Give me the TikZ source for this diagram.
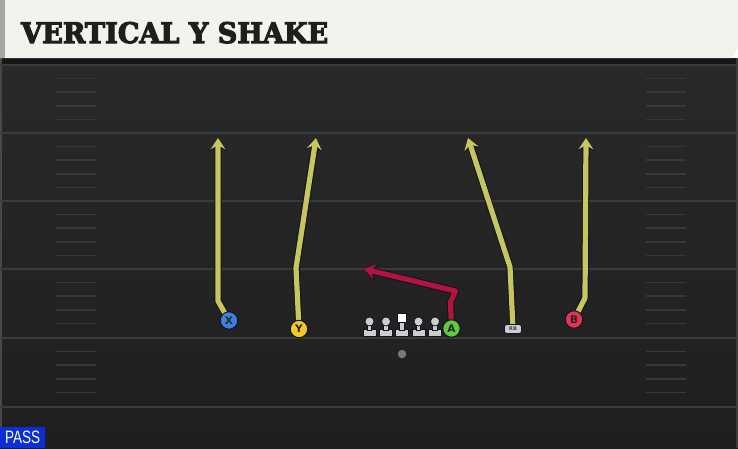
\documentclass[tikz,border=0pt]{standalone}
\usepackage{fontspec}
\usetikzlibrary{arrows.meta}
\newfontfamily\titlefont[BoldFeatures={FakeBold=4}]{DejaVu Serif}
\newfontfamily\labelfont{DejaVu Sans}
\newfontfamily\passfont{Liberation Sans}
\definecolor{fieldtop}{HTML}{292929}
\definecolor{fieldbot}{HTML}{1F1F1F}
\definecolor{yardline}{HTML}{3B3B3B}
\definecolor{hashc}{HTML}{383838}
\definecolor{cream}{HTML}{F4F2EC}
\definecolor{outl}{HTML}{101226}
\definecolor{ylw}{HTML}{C8C55C}
\definecolor{crim}{HTML}{B3133C}
\definecolor{xblue}{HTML}{3D7FDA}
\definecolor{yyel}{HTML}{F3C822}
\definecolor{agreen}{HTML}{5DCB3C}
\definecolor{bred}{HTML}{E2344D}
\definecolor{olgrey}{HTML}{CDCDCD}
\definecolor{passblue}{HTML}{0B2ED6}
\definecolor{band}{HTML}{161616}
\definecolor{leftstrip}{HTML}{A6A6A6}
\definecolor{borderl}{HTML}{484848}
\definecolor{borderr}{HTML}{3C3C3C}
\definecolor{titlec}{HTML}{1E1E1E}
\definecolor{qbgrey}{HTML}{787878}
\pgfdeclarelayer{bg}
\pgfdeclarelayer{routes}
\pgfsetlayers{bg,routes,main}
\tikzset{
  player/.style={circle, draw=outl, line width=1pt, minimum size=17.5pt, inner sep=0pt,
    font=\labelfont\bfseries\fontsize{10.5}{10.5}\selectfont, text=black!85},
  routeshadow/.style={line width=7.2pt, draw=outl, line join=round,
    -{Stealth[length=13.5pt,width=18pt,inset=5pt]}},
  routeyel/.style={line width=5.2pt, draw=ylw, line join=round,
    -{Stealth[length=11.5pt,width=15pt,inset=4.5pt]}},
  routered/.style={line width=5.2pt, draw=crim, line join=round,
    -{Stealth[length=11.5pt,width=15pt,inset=4.5pt]}},
  yardl/.style={draw=yardline, line width=2pt},
  hashm/.style={draw=hashc, line width=1.6pt},
  olpart/.style={fill=olgrey, draw=outl, line width=0.7pt},
  lineman/.pic={
    \path[olpart] (-6.5,329) rectangle (6.5,336);
    \path[olpart] (-2.2,322) rectangle (2.2,330);
    \path[olpart] (0,321.5) circle (4.5);
  },
  centerman/.pic={
    \path[olpart] (-6.5,329) rectangle (6.5,336);
    \path[olpart] (-2.2,321) rectangle (2.2,330);
    \path[fill=white, draw=outl, line width=0.7pt] (-4.6,313) rectangle (4.6,322);
  }
}
\begin{document}
\begin{tikzpicture}[x=1pt,y=-1pt]
\useasboundingbox (0,0) rectangle (738,448);
\begin{pgfonlayer}{bg}
  \shade[top color=fieldtop, bottom color=fieldbot] (0,58) rectangle (738,448);
  \fill[band] (0,58) rectangle (738,64);
  % side borders
  \draw[draw=borderl, line width=1.6pt] (1,58) -- (1,448);
  \draw[draw=borderr, line width=1.6pt] (737,58) -- (737,448);
  % yard lines
  \foreach \yy in {65,133,201,269,338,407} {
    \draw[yardl] (0,\yy) -- (738,\yy);
  }
  % hash marks
  \foreach \yy in {65,133,201,269,338} {
    \foreach \k in {1,2,3,4} {
      \draw[hashm] (56,\yy+13.6*\k) -- (96,\yy+13.6*\k);
      \draw[hashm] (646,\yy+13.6*\k) -- (686,\yy+13.6*\k);
    }
  }
  % header
  \fill[cream] (0,0) -- (738,0) -- (738,48) -- (733,58) -- (0,58) -- cycle;
  \fill[leftstrip] (0,0) rectangle (5,58);
\end{pgfonlayer}

\node[anchor=base west, inner sep=0pt, text=titlec] (title) at (21,43)
  {\resizebox{307pt}{21pt}{\titlefont\bfseries VERTICAL Y SHAKE}};

% players
\node[player, fill=xblue] (X) at (229,320.5) {X};
\node[player, fill=yyel] (Y) at (299,329) {Y};
\node[player, fill=agreen] (A) at (451.5,328.5) {A};
\node[player, fill=bred] (B) at (574,319.5) {B};
\node[rounded corners=2.5pt, fill=olgrey, draw=outl, line width=0.7pt, minimum width=17pt,
  minimum height=9pt, inner sep=0pt, text=black!75,
  font=\labelfont\bfseries\fontsize{5}{5}\selectfont] (RB) at (513,329) {RB};
\node[circle, fill=qbgrey, draw=outl, line width=0.5pt,
  minimum size=9.5pt, inner sep=0pt] (QB) at (402,354) {};

\pic (LT) at (369.5,0) {lineman};
\pic (LG) at (386,0) {lineman};
\pic (C) at (402,0) {centerman};
\pic (RG) at (418.5,0) {lineman};
\pic (RT) at (435,0) {lineman};

% route ends
\coordinate (xbrk) at (218,301);
\coordinate (xend) at (218,138);
\coordinate (ybrk) at (296,268);
\coordinate (yend) at (316,138);
\coordinate (rbbrk) at (510,267);
\coordinate (rbend) at (468,138);
\coordinate (bbrk) at (585,298);
\coordinate (bend) at (586,138);
\coordinate (abrk1) at (450.5,302);
\coordinate (abrk2) at (455.5,291);
\coordinate (aend) at (364,269);

\begin{pgfonlayer}{routes}
  \draw[routeshadow] (X.center) -- (xbrk) -- (xend);
  \draw[routeyel] (X.center) -- (xbrk) -- (xend);
  \draw[routeshadow] (Y.center) -- (ybrk) -- (yend);
  \draw[routeyel] (Y.center) -- (ybrk) -- (yend);
  \draw[routeshadow] (RB.center) -- (rbbrk) -- (rbend);
  \draw[routeyel] (RB.center) -- (rbbrk) -- (rbend);
  \draw[routeshadow] (B.center) -- (bbrk) -- (bend);
  \draw[routeyel] (B.center) -- (bbrk) -- (bend);
  \draw[routeshadow] (A.center) -- (abrk1) -- (abrk2) -- (aend);
  \draw[routered] (A.center) -- (abrk1) -- (abrk2) -- (aend);
\end{pgfonlayer}

\node[fill=passblue, anchor=south west, minimum width=45pt, minimum height=20.5pt, inner sep=0pt,
  text=white] (pass) at (0,448) {\resizebox{35pt}{12.5pt}{\passfont PASS}};
\end{tikzpicture}
\end{document}
